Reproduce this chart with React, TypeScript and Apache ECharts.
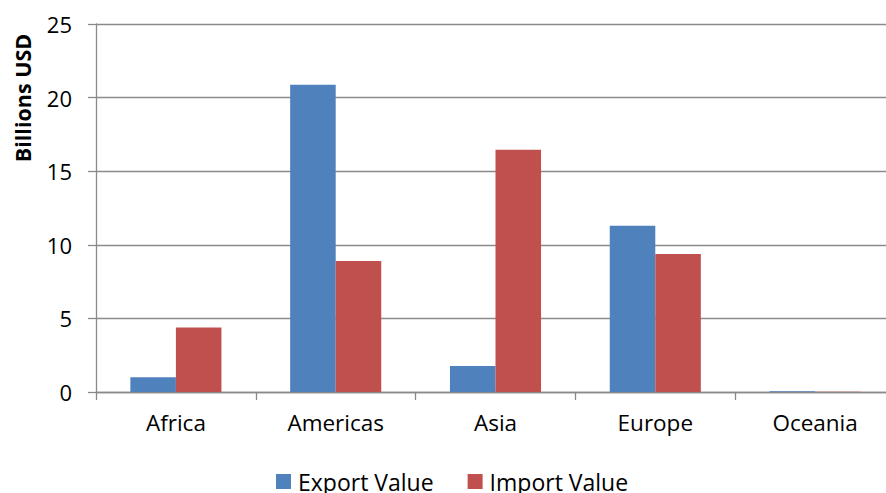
import React, { useEffect, useRef } from "react";
import * as echarts from "echarts";

const categories = ["Africa", "Americas", "Asia", "Europe", "Oceania"];
const exportValues = [1.0, 20.87, 1.77, 11.3, 0.05];
const importValues = [4.38, 8.9, 16.45, 9.38, 0.01];
const seriesNames = ["Export Value", "Import Value"];

const FONT = "'Open Sans', 'Noto Sans', sans-serif";

export default function App() {
  const ref = useRef<HTMLDivElement>(null);
  useEffect(() => {
    document.body.style.margin = "0";
    const chart = echarts.init(ref.current!, null, { renderer: "svg" });
    chart.setOption({
      animation: false,
      backgroundColor: "#ffffff",
      textStyle: { fontFamily: FONT },
      grid: { left: 96, top: 24, width: 799, height: 368, containLabel: false },
      legend: {
        data: seriesNames,
        left: 271,
        top: 465,
        itemWidth: 15,
        itemHeight: 15,
        itemGap: 34,
        icon: "rect",
        textStyle: { fontSize: 23, color: "#000", fontFamily: FONT, lineHeight: 22, padding: [0, 0, 0, 2] },
      },
      graphic: [
        {
          type: "text",
          x: 22,
          y: 98,
          rotation: Math.PI / 2,
          style: {
            text: "Billions USD",
            fontSize: 21.5,
            fontWeight: "bold",
            fontFamily: FONT,
            fill: "#000",
            align: "center",
            verticalAlign: "middle",
          },
        },
      ],
      xAxis: {
        type: "category",
        data: categories,
        axisLine: { show: true, lineStyle: { color: "#8a8a8a", width: 1.3 } },
        axisTick: { show: true, length: 8, alignWithLabel: false, lineStyle: { color: "#8a8a8a", width: 1.3 } },
        axisLabel: { fontSize: 22.5, color: "#000", margin: 19, fontFamily: FONT },
      },
      yAxis: {
        type: "value",
        min: 0,
        max: 25,
        interval: 5,
        axisLine: { show: true, lineStyle: { color: "#8a8a8a", width: 1.3 } },
        axisTick: { show: true, length: 8, lineStyle: { color: "#8a8a8a", width: 1.3 } },
        splitLine: { show: true, lineStyle: { color: "#8a8a8a", width: 1.3 } },
        axisLabel: { fontSize: 22, color: "#000", margin: 24, fontFamily: FONT },
      },
      series: [
        {
          name: seriesNames[0],
          type: "bar",
          data: exportValues,
          itemStyle: { color: "#4F81BD" },
          barGap: "0%",
          barCategoryGap: "43%",
        },
        {
          name: seriesNames[1],
          type: "bar",
          data: importValues,
          itemStyle: { color: "#C0504D" },
          barGap: "0%",
          barCategoryGap: "43%",
        },
      ],
    });
    return () => chart.dispose();
  }, []);
  return (
    <div style={{ width: 886, height: 493, overflow: "hidden", position: "relative" }}>
      <div ref={ref} style={{ width: 900, height: 493 }} />
    </div>
  );
}
